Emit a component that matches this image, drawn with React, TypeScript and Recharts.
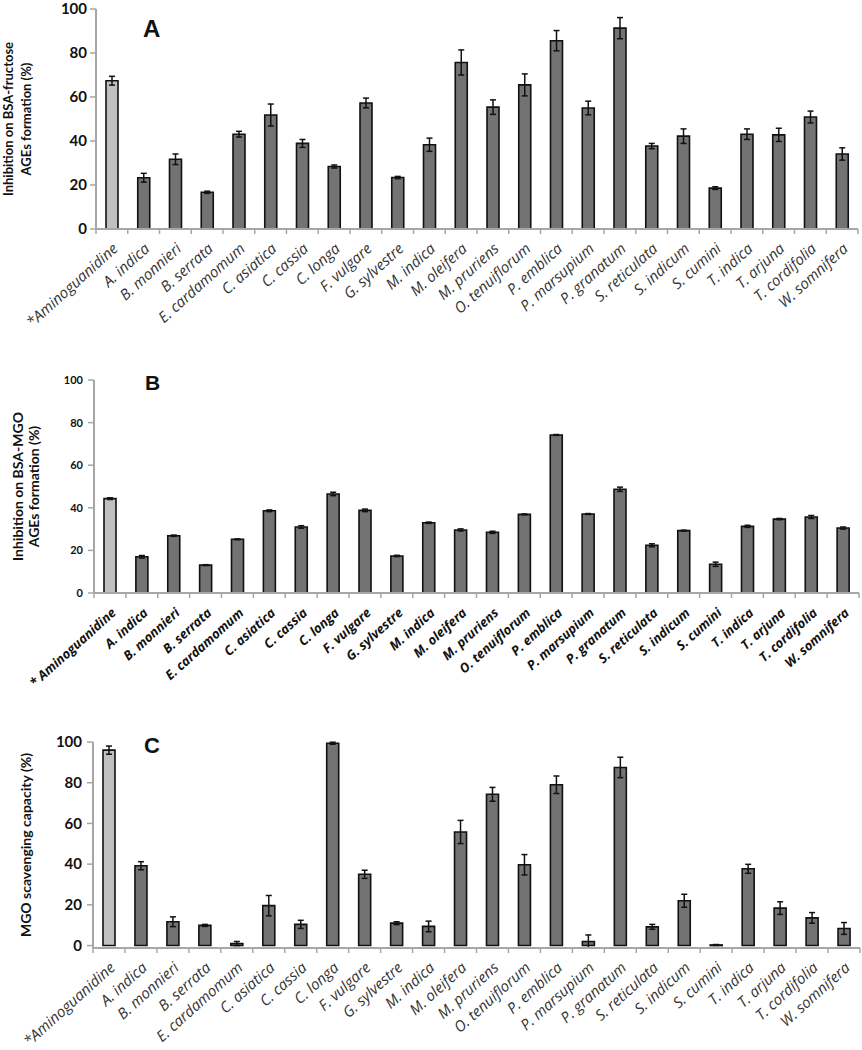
import { BarChart, Bar, XAxis, YAxis, ErrorBar, Cell } from 'recharts';

// categories
const CONTROL = '*Aminoguanidine';
const CONTROL_B = '* Aminoguanidine';
const PLANTS = [
  'A. indica', 'B. monnieri', 'B. serrata', 'E. cardamomum', 'C. asiatica', 'C. cassia',
  'C. longa', 'F. vulgare', 'G. sylvestre', 'M. indica', 'M. oleifera', 'M. pruriens',
  'O. tenuiflorum', 'P. emblica', 'P. marsupium', 'P. granatum', 'S. reticulata',
  'S. indicum', 'S. cumini', 'T. indica', 'T. arjuna', 'T. cordifolia', 'W. somnifera',
];

// A: inhibition of BSA-fructose AGEs (%)
const FRUCTOSE = [67.4, 23.3, 31.7, 16.7, 43.1, 51.8, 38.9, 28.4, 57.3, 23.4, 38.3, 75.7,
  55.4, 65.5, 85.6, 55.0, 91.3, 37.7, 42.2, 18.6, 43.1, 42.8, 50.9, 34.1];
const FRUCTOSE_SD = [2, 2, 2.4, 0.5, 1.3, 5, 1.8, 0.7, 2.2, 0.5, 3, 5.7,
  3.3, 5, 4.6, 3.1, 4.8, 1.2, 3.3, 0.6, 2.4, 3, 2.7, 2.8];

// B: inhibition of BSA-MGO AGEs (%)
const MGO = [44.3, 17.0, 26.9, 13.1, 25.2, 38.6, 31.0, 46.5, 38.8, 17.4, 33.0, 29.6,
  28.5, 36.9, 74.2, 37.1, 48.7, 22.4, 29.3, 13.5, 31.3, 34.7, 35.7, 30.5];
const MGO_SD = [0.4, 0.6, 0.3, 0.2, 0.2, 0.4, 0.6, 0.8, 0.6, 0.3, 0.3, 0.5,
  0.5, 0.2, 0.2, 0.2, 1.0, 0.7, 0.2, 1.0, 0.5, 0.3, 0.7, 0.5];

// C: MGO scavenging capacity (%)
const SCAVENGING = [96.0, 39.2, 11.7, 9.9, 1.0, 19.6, 10.4, 99.4, 35.0, 11.0, 9.4, 55.8,
  74.3, 39.7, 79.0, 2.0, 87.5, 9.2, 22.0, 0.3, 37.7, 18.4, 13.6, 8.4];
const SCAVENGING_SD = [2, 2, 2.4, 0.5, 1, 5, 2, 0.5, 2, 0.7, 2.6, 5.7,
  3.4, 5, 4.3, 3.2, 5, 1.2, 3.2, 0.2, 2.2, 3.1, 2.6, 2.9];

const Y_TICKS = [0, 20, 40, 60, 80, 100];

const FONT = 'Lato, "Open Sans", sans-serif';
const LABEL_FONT = '"Open Sans", Lato, sans-serif';
const AXIS_GREY = '#a6a6a6';

function toRows(names: string[], values: number[], sd: number[]) {
  return names.map((name, i) => ({ name, value: values[i], sd: sd[i] }));
}

function CategoryTick(props: any) {
  const { x, y, payload, index, size, weight, color, rot } = props;
  const half = payload?.offset ?? 16;
  const ax = x + 7;
  const ay = y + 21;
  return (
    <g>
      {index === 0 && <line x1={x - half} x2={x - half} y1={y} y2={y + 5} stroke={AXIS_GREY} strokeWidth={1.5} />}
      <line x1={x + half} x2={x + half} y1={y} y2={y + 5} stroke={AXIS_GREY} strokeWidth={1.5} />
      <text
        x={ax}
        y={ay}
        transform={`rotate(${rot} ${ax} ${ay})`}
        textAnchor="end"
        fontFamily={LABEL_FONT}
        fontStyle="italic"
        fontWeight={weight}
        fontSize={size}
        fill={color}
      >
        {payload.value}
      </text>
    </g>
  );
}

interface PanelProps {
  top: number;
  height: number;
  margin: { top: number; right: number; left: number; bottom: number };
  yWidth: number;
  xHeight: number;
  rows: { name: string; value: number; sd: number }[];
  letter: string;
  letterX: number;
  letterY: number;
  letterSize: number;
  title: string[];
  titleX: number[];
  titleSize: number;
  yTickSize: number;
  yTickGap: number;
  xSize: number;
  xWeight: number;
  xColor: string;
}

function Panel(p: PanelProps) {
  const plotH = p.height - p.margin.top - p.xHeight;
  const midY = p.margin.top + plotH / 2;
  return (
    <div style={{ position: 'absolute', left: 0, top: p.top, width: 862, height: p.height }}>
      <BarChart width={862} height={p.height} data={p.rows} margin={p.margin} barCategoryGap="0%">
        <XAxis
          dataKey="name"
          interval={0}
          height={p.xHeight}
          tickSize={0}
          tickMargin={0}
          axisLine={{ stroke: AXIS_GREY, strokeWidth: 2 }}
          tick={(t: any) => (
            <CategoryTick {...t} size={p.xSize} weight={p.xWeight} color={p.xColor} rot={-42} />
          )}
        />
        <YAxis
          width={p.yWidth}
          domain={[0, 100]}
          ticks={Y_TICKS}
          interval={0}
          tickSize={6}
          tickMargin={p.yTickGap}
          axisLine={{ stroke: AXIS_GREY, strokeWidth: 2 }}
          tickLine={{ stroke: AXIS_GREY, strokeWidth: 1.5 }}
          tick={{ fill: '#111', fontFamily: FONT, fontWeight: 700, fontSize: p.yTickSize }}
        />
        <Bar dataKey="value" barSize={12} stroke="#111" strokeWidth={1.6} isAnimationActive={false}>
          {p.rows.map((r, i) => (
            <Cell key={r.name} fill={i === 0 ? '#c0c0c0' : '#737373'} />
          ))}
          <ErrorBar dataKey="sd" width={3} stroke="#111" strokeWidth={1.5} direction="y" />
        </Bar>
      </BarChart>
      <svg
        width={862}
        height={p.height}
        style={{ position: 'absolute', left: 0, top: 0, pointerEvents: 'none' }}
      >
        <text
          x={p.letterX}
          y={p.letterY}
          fontFamily="'Liberation Sans', Arial, sans-serif"
          fontWeight={700}
          fontSize={p.letterSize}
          fill="#111"
        >
          {p.letter}
        </text>
        {p.title.map((line, i) => (
          <text
            key={line}
            x={p.titleX[i]}
            y={midY}
            transform={`rotate(-90, ${p.titleX[i]}, ${midY})`}
            textAnchor="middle"
            fontFamily={FONT}
            fontWeight={700}
            fontSize={p.titleSize}
            fill="#111"
          >
            {line}
          </text>
        ))}
      </svg>
    </div>
  );
}

export default function App() {
  const namesAC = [CONTROL, ...PLANTS];
  const namesB = [CONTROL_B, ...PLANTS];
  return (
    <div style={{ position: 'absolute', left: 0, top: 0, width: 862, height: 1050, background: '#fff' }}>
      <Panel
        top={0}
        height={350}
        margin={{ top: 9, right: 4, left: 0, bottom: 0 }}
        yWidth={96}
        xHeight={121}
        rows={toRows(namesAC, FRUCTOSE, FRUCTOSE_SD)}
        letter="A"
        letterX={143}
        letterY={37}
        letterSize={24}
        title={['Inhibition on BSA-fructose', 'AGEs formation (%)']}
        titleX={[13, 31]}
        titleSize={13}
        yTickSize={15}
        yTickGap={3}
        xSize={15}
        xWeight={400}
        xColor="#333"
      />
      <Panel
        top={330}
        height={380}
        margin={{ top: 50, right: 3, left: 0, bottom: 0 }}
        yWidth={94}
        xHeight={117}
        rows={toRows(namesB, MGO, MGO_SD)}
        letter="B"
        letterX={145}
        letterY={60}
        letterSize={21}
        title={['Inhibition on BSA-MGO', 'AGEs formation (%)']}
        titleX={[23, 39]}
        titleSize={14}
        yTickSize={11}
        yTickGap={5}
        xSize={13}
        xWeight={700}
        xColor="#111"
      />
      <Panel
        top={690}
        height={360}
        margin={{ top: 52, right: 2, left: 0, bottom: 0 }}
        yWidth={93}
        xHeight={102}
        rows={toRows(namesAC, SCAVENGING, SCAVENGING_SD)}
        letter="C"
        letterX={144}
        letterY={63}
        letterSize={22}
        title={['MGO scavenging capacity (%)']}
        titleX={[31]}
        titleSize={14}
        yTickSize={15}
        yTickGap={5}
        xSize={15}
        xWeight={400}
        xColor="#333"
      />
    </div>
  );
}
